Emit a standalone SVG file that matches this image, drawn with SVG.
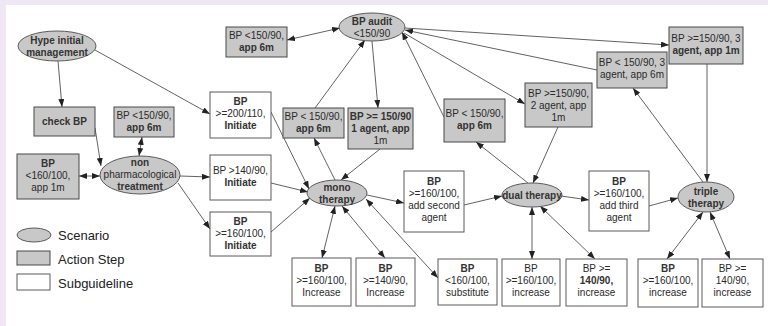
<svg xmlns="http://www.w3.org/2000/svg" width="768" height="326" viewBox="0 0 768 326">
<style>
text{font-family:"Liberation Sans",Arial,sans-serif;font-size:10px;fill:#2a2a2a;text-anchor:middle}
.b{font-weight:bold;fill:#333}
.act{fill:#c8c8c8;stroke:#484848;stroke-width:1}
.sub{fill:#fff;stroke:#5a5a5a;stroke-width:1}
.scn{fill:#c8c8c8;stroke:#5a5a5a;stroke-width:1}
.lg{font-size:13px;text-anchor:start;fill:#222}
#connectors line{stroke:#3a3a3a;stroke-width:0.8;fill:none}
</style>
<defs>
<marker id="ah" markerWidth="8" markerHeight="6" refX="8" refY="3" orient="auto-start-reverse" markerUnits="userSpaceOnUse"><path d="M0,0 L8,3 L0,6 z" fill="#222"/></marker>
</defs>
<rect x="0" y="0" width="768" height="326" fill="#fff"/>
<rect x="0" y="0" width="768" height="5" fill="#efe7f4"/>
<rect x="0" y="0" width="6" height="326" fill="#efe7f4"/>

<g id="connectors">
<line x1="58" y1="61" x2="62" y2="107" marker-end="url(#ah)"/>
<line x1="95" y1="50" x2="210" y2="114" marker-end="url(#ah)"/>
<line x1="95" y1="128" x2="101" y2="166" marker-end="url(#ah)"/>
<line x1="142" y1="137" x2="139" y2="156" marker-start="url(#ah)" marker-end="url(#ah)"/>
<line x1="79" y1="176" x2="100" y2="176" marker-start="url(#ah)" marker-end="url(#ah)"/>
<line x1="180" y1="176" x2="210" y2="177" marker-end="url(#ah)"/>
<line x1="178" y1="183" x2="210" y2="229" marker-end="url(#ah)"/>
<line x1="271" y1="112" x2="309" y2="189" marker-end="url(#ah)"/>
<line x1="271" y1="183" x2="308" y2="192" marker-end="url(#ah)"/>
<line x1="271" y1="232" x2="310" y2="198" marker-end="url(#ah)"/>
<line x1="287" y1="40" x2="340" y2="28" marker-start="url(#ah)" marker-end="url(#ah)"/>
<line x1="315" y1="108" x2="365" y2="40" marker-end="url(#ah)"/>
<line x1="372" y1="41" x2="378" y2="108" marker-end="url(#ah)"/>
<line x1="335" y1="180" x2="314" y2="138" marker-end="url(#ah)"/>
<line x1="380" y1="149" x2="341" y2="180" marker-end="url(#ah)"/>
<line x1="367" y1="195" x2="404" y2="203" marker-end="url(#ah)"/>
<line x1="366" y1="199" x2="438" y2="278" marker-start="url(#ah)" marker-end="url(#ah)"/>
<line x1="335" y1="206" x2="322" y2="258" marker-start="url(#ah)" marker-end="url(#ah)"/>
<line x1="342" y1="206" x2="385" y2="258" marker-start="url(#ah)" marker-end="url(#ah)"/>
<line x1="464" y1="205" x2="502" y2="196" marker-end="url(#ah)"/>
<line x1="528" y1="183" x2="476" y2="142" marker-end="url(#ah)"/>
<line x1="558" y1="127" x2="533" y2="183" marker-end="url(#ah)"/>
<line x1="444" y1="117" x2="402" y2="32" marker-end="url(#ah)"/>
<line x1="404" y1="33" x2="525" y2="104" marker-end="url(#ah)"/>
<line x1="405" y1="28" x2="669" y2="45" marker-end="url(#ah)"/>
<line x1="597" y1="70" x2="405" y2="30" marker-end="url(#ah)"/>
<line x1="703" y1="182" x2="633" y2="88" marker-end="url(#ah)"/>
<line x1="707" y1="64" x2="707" y2="182" marker-end="url(#ah)"/>
<line x1="561" y1="196" x2="589" y2="200" marker-end="url(#ah)"/>
<line x1="649" y1="206" x2="678" y2="198" marker-end="url(#ah)"/>
<line x1="532" y1="207" x2="532" y2="259" marker-start="url(#ah)" marker-end="url(#ah)"/>
<line x1="540" y1="206" x2="595" y2="259" marker-start="url(#ah)" marker-end="url(#ah)"/>
<line x1="703" y1="212" x2="667" y2="259" marker-start="url(#ah)" marker-end="url(#ah)"/>
<line x1="710" y1="212" x2="730" y2="259" marker-start="url(#ah)" marker-end="url(#ah)"/>
</g>

<g id="hype"><ellipse class="scn" cx="57" cy="46" rx="39" ry="15"/><text x="57" y="44" class="b">Hype initial</text><text x="57" y="56" class="b">management</text></g>
<g id="checkbp"><rect class="act" x="34" y="107" width="61" height="29"/><text x="64.5" y="125" class="b">check BP</text></g>
<g id="bp160app1m"><rect class="act" x="17" y="154" width="62" height="45"/><text x="48" y="167" class="b">BP</text><text x="48" y="179">&lt;160/100,</text><text x="48" y="191">app 1m</text></g>
<g id="bp150np"><rect class="act" x="114" y="107" width="60" height="30"/><text x="144" y="119">BP &lt;150/90,</text><text x="144" y="131" class="b">app 6m</text></g>
<g id="nonpharm"><ellipse class="scn" cx="140" cy="175" rx="40" ry="19"/><text x="140" y="166" class="b">non</text><text x="140" y="178">pharmacological</text><text x="140" y="190" class="b">treatment</text></g>
<g id="bp200"><rect class="sub" x="210" y="92" width="61" height="46"/><text x="240.5" y="105" class="b">BP</text><text x="240.5" y="117">&gt;=200/110,</text><text x="240.5" y="129" class="b">Initiate</text></g>
<g id="bp140init"><rect class="sub" x="210" y="155" width="61" height="45"/><text x="240.5" y="174">BP &gt;140/90,</text><text x="240.5" y="186" class="b">Initiate</text></g>
<g id="bp160init"><rect class="sub" x="210" y="212" width="61" height="44"/><text x="240.5" y="225" class="b">BP</text><text x="240.5" y="237">&gt;=160/100,</text><text x="240.5" y="249" class="b">Initiate</text></g>
<g id="audit"><ellipse class="scn" cx="372" cy="27" rx="33" ry="14"/><text x="372" y="25" class="b">BP audit</text><text x="372" y="37">&lt;150/90</text></g>
<g id="bp150top"><rect class="act" x="226" y="27" width="61" height="30"/><text x="256.5" y="39">BP &lt;150/90,</text><text x="256.5" y="51" class="b">app 6m</text></g>
<g id="bp150mono"><rect class="act" x="283" y="108" width="61" height="30"/><text x="313.5" y="120">BP &lt; 150/90,</text><text x="313.5" y="132" class="b">app 6m</text></g>
<g id="bp150a1"><rect class="act" x="348" y="108" width="65" height="41"/><text x="380.5" y="120" class="b">BP &gt;= 150/90</text><text x="380.5" y="132" class="b">1 agent, app</text><text x="380.5" y="144">1m</text></g>
<g id="mono"><ellipse class="scn" cx="337" cy="193" rx="30" ry="13"/><text x="337" y="191" class="b">mono</text><text x="337" y="203" class="b">therapy</text></g>
<g id="add2"><rect class="sub" x="404" y="171" width="60" height="61"/><text x="434" y="185" class="b">BP</text><text x="434" y="197">&gt;=160/100,</text><text x="434" y="209">add second</text><text x="434" y="221">agent</text></g>
<g id="bp150dual"><rect class="act" x="444" y="99" width="61" height="43"/><text x="474.5" y="117">BP &lt; 150/90,</text><text x="474.5" y="129" class="b">app 6m</text></g>
<g id="bp150a2"><rect class="act" x="525" y="83" width="67" height="44"/><text x="558.5" y="97">BP &gt;=150/90,</text><text x="558.5" y="109">2 agent, app</text><text x="558.5" y="121">1m</text></g>
<g id="bp150a3m6"><rect class="act" x="597" y="52" width="70" height="36"/><text x="632" y="66">BP &lt; 150/90, 3</text><text x="632" y="78">agent, app 6m</text></g>
<g id="bp150a3m1"><rect class="act" x="669" y="27" width="74" height="37"/><text x="706" y="42">BP &gt;=150/90, 3</text><text x="706" y="54" class="b">agent, app 1m</text></g>
<g id="dual"><ellipse class="scn" cx="532" cy="195" rx="30" ry="12"/><text x="532" y="199" class="b">dual therapy</text></g>
<g id="add3"><rect class="sub" x="589" y="171" width="60" height="60"/><text x="619" y="185" class="b">BP</text><text x="619" y="197">&gt;=160/100,</text><text x="619" y="209">add third</text><text x="619" y="221">agent</text></g>
<g id="triple"><ellipse class="scn" cx="706" cy="197" rx="28" ry="15"/><text x="706" y="195" class="b">triple</text><text x="706" y="207" class="b">therapy</text></g>
<g id="monoinc160"><rect class="sub" x="292" y="258" width="59" height="48"/><text x="321.5" y="272" class="b">BP</text><text x="321.5" y="284">&gt;=160/100,</text><text x="321.5" y="296">Increase</text></g>
<g id="monoinc140"><rect class="sub" x="356" y="258" width="59" height="48"/><text x="385.5" y="272" class="b">BP</text><text x="385.5" y="284">&gt;=140/90,</text><text x="385.5" y="296">Increase</text></g>
<g id="substitute"><rect class="sub" x="438" y="259" width="59" height="46"/><text x="467.5" y="272" class="b">BP</text><text x="467.5" y="284">&lt;160/100,</text><text x="467.5" y="296">substitute</text></g>
<g id="dualinc160"><rect class="sub" x="502" y="259" width="58" height="47"/><text x="531" y="272">BP</text><text x="531" y="284">&gt;=160/100,</text><text x="531" y="296">increase</text></g>
<g id="dualinc140"><rect class="sub" x="566" y="259" width="61" height="47"/><text x="596.5" y="272">BP &gt;=</text><text x="596.5" y="284" class="b">140/90,</text><text x="596.5" y="296">increase</text></g>
<g id="triinc160"><rect class="sub" x="638" y="259" width="60" height="48"/><text x="668" y="272" class="b">BP</text><text x="668" y="284">&gt;=160/100,</text><text x="668" y="296">increase</text></g>
<g id="triinc140"><rect class="sub" x="702" y="259" width="61" height="48"/><text x="732.5" y="272">BP &gt;=</text><text x="732.5" y="284">140/90,</text><text x="732.5" y="296">increase</text></g>

<g id="legend">
<ellipse class="scn" cx="34" cy="235" rx="17" ry="7"/><text class="lg" x="58" y="240">Scenario</text>
<rect class="act" x="17" y="251" width="33" height="14"/><text class="lg" x="58" y="264">Action Step</text>
<rect class="sub" x="17" y="274" width="33" height="16"/><text class="lg" x="58" y="288">Subguideline</text>
</g>
</svg>
